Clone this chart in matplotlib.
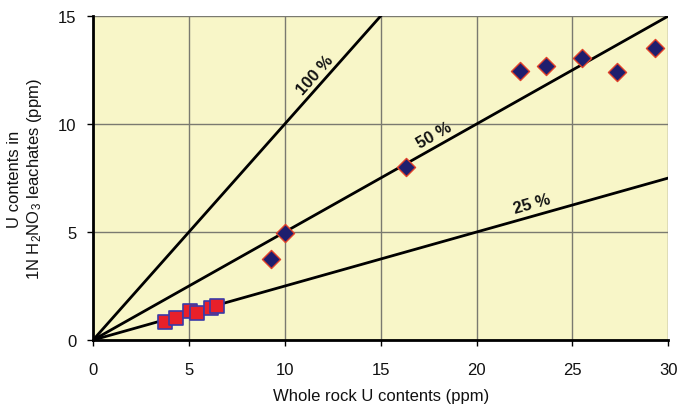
import matplotlib.pyplot as plt
import numpy as np

plt.rcParams['font.family'] = ['Liberation Sans', 'DejaVu Sans']
plt.rcParams['mathtext.default'] = 'regular'

# data
sq_x = [3.76, 4.33, 5.06, 5.43, 6.16, 6.47]
sq_y = [0.83, 1.00, 1.34, 1.25, 1.50, 1.57]
dm_x = [9.29, 10.02, 16.33, 22.27, 23.63, 25.51, 27.33, 29.32]
dm_y = [3.75, 4.95, 8.00, 12.45, 12.70, 13.05, 12.40, 13.50]
ratios = [1.0, 0.5, 0.25]
ratio_labels = ['100 %', '50 %', '25 %']
label_pos = [(11.6, 12.3), (17.8, 9.5), (22.9, 6.3)]

fig = plt.figure(figsize=(6.84, 4.06), dpi=100)
ax = fig.add_axes([0.136, 0.160, 0.841, 0.798])
ax.set_facecolor('#f8f6c8')
ax.set_xlim(0, 30)
ax.set_ylim(0, 15)

xs = np.array([0, 30])
for r in ratios:
    ax.plot(xs, r * xs, color='black', lw=2, zorder=3)

ax.scatter(sq_x, sq_y, marker='s', s=115, facecolor='#e8202a',
           edgecolor='#3a3aa8', linewidth=1.2, zorder=4)
ax.scatter(dm_x, dm_y, marker='D', s=85, facecolor='#1e1e6e',
           edgecolor='#e0402a', linewidth=1.0, zorder=4)

# rotation of the labels in screen space
fig.canvas.draw()
for r, lab, (lx, ly) in zip(ratios, ratio_labels, label_pos):
    p0 = ax.transData.transform((0, 0))
    p1 = ax.transData.transform((30, 30 * r))
    ang = np.degrees(np.arctan2(p1[1] - p0[1], p1[0] - p0[0]))
    ax.text(lx, ly, lab, rotation=ang, rotation_mode='anchor', ha='center', va='center',
            fontsize=12, fontweight='bold', color='#111111', zorder=5)

ax.set_xticks([0, 5, 10, 15, 20, 25, 30])
ax.set_yticks([0, 5, 10, 15])
ax.grid(True, color='#7a7a70', lw=1)
ax.set_axisbelow(True)
for s in ['top', 'right']:
    ax.spines[s].set_visible(False)
ax.spines['left'].set_linewidth(2)
ax.spines['bottom'].set_linewidth(2)
ax.tick_params(labelsize=12, length=4, width=1, pad=8, labelcolor='#111111')
ax.tick_params(axis='x', pad=12)

ax.set_xlabel('Whole rock U contents (ppm)', fontsize=12, labelpad=8, color='#111111')
ax.set_ylabel('U contents in\n1N H$_2$NO$_3$ leachates (ppm)', fontsize=12, labelpad=10,
              color='#111111')

fig.savefig('out.png', dpi=100)
